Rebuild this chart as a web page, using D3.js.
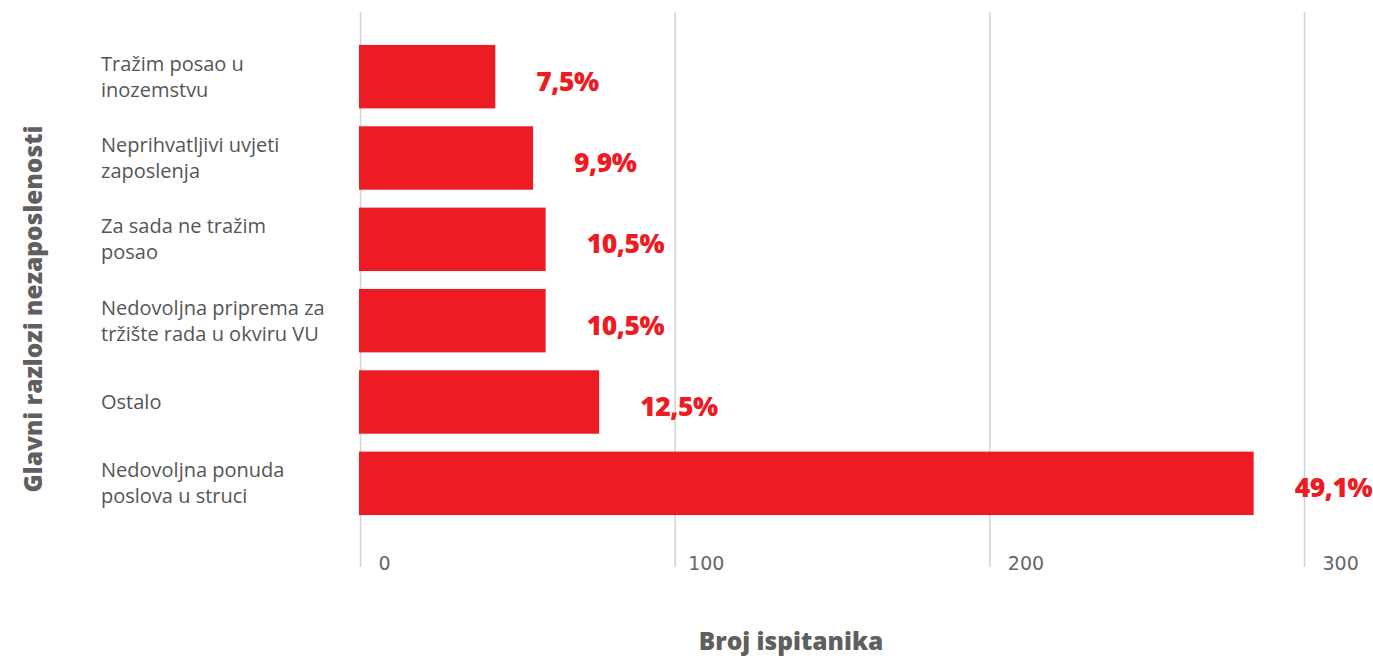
<!DOCTYPE html>
<html lang="hr">
<head>
  <meta charset="UTF-8">
  <title>Glavni razlozi nezaposlenosti</title>
  <script src="https://d3js.org/d3.v7.min.js"></script>
  <style>
    body { margin: 0; background: #fff; }
    svg { display: block; font-family: "Open Sans", sans-serif; }
  </style>
</head>
<body>
  <div id="chart"></div>

  <script>
    // Data
    const categories = [
      'Tražim posao u\ninozemstvu',
      'Neprihvatljivi uvjeti\nzaposlenja',
      'Za sada ne tražim\nposao',
      'Nedovoljna priprema za\ntržište rada u okviru VU',
      'Ostalo',
      'Nedovoljna ponuda\nposlova u struci'
    ];
    const counts = [43, 55, 59, 59, 76, 284];
    const shares = ['7,5%', '9,9%', '10,5%', '10,5%', '12,5%', '49,1%'];
    const xTicks = [0, 100, 200, 300];

    const width = 1373;
    const height = 658;
    const margin = { top: 36, right: 69, bottom: 134, left: 360 };

    const svg = d3.select('#chart')
      .append('svg')
      .attr('width', width)
      .attr('height', height);

    const x = d3.scaleLinear()
      .domain([0, 300])
      .range([margin.left, 1304]);

    const y = d3.scaleBand()
      .domain(categories)
      .range([margin.top, height - margin.bottom])
      .paddingInner(0.22)
      .paddingOuter(0.11);

    // vertical gridlines
    svg.append('g')
      .selectAll('line')
      .data(xTicks)
      .join('line')
      .attr('x1', d => x(d) + 0.5)
      .attr('x2', d => x(d) + 0.5)
      .attr('y1', 12)
      .attr('y2', 567)
      .attr('stroke', '#d2d2d2')
      .attr('stroke-width', 1.5);

    // tick labels, sitting to the right of each gridline
    const xAxis = svg.append('g')
      .attr('transform', `translate(0,563)`)
      .call(d3.axisBottom(x).tickValues(xTicks).tickSize(0).tickFormat(d3.format('d')));
    xAxis.select('.domain').remove();
    xAxis.selectAll('text')
      .attr('text-anchor', 'start')
      .attr('dx', d => d === 100 ? 13 : 18)
      .attr('y', 0)
      .attr('dy', '0.35em')
      .attr('fill', '#666')
      .style('font-size', '19px')
      .style('font-family', '"DejaVu Sans", sans-serif');

    // bars
    svg.append('g')
      .selectAll('rect')
      .data(counts)
      .join('rect')
      .attr('x', x(0) - 1)
      .attr('y', (d, i) => y(categories[i]))
      .attr('width', d => x(d) - x(0) + 1)
      .attr('height', y.bandwidth())
      .attr('fill', '#ed1c24');

    // percentage labels
    svg.append('g')
      .selectAll('text')
      .data(counts)
      .join('text')
      .attr('x', d => x(d) + 41)
      .attr('y', (d, i) => y(categories[i]) + y.bandwidth() / 2 + 14)
      .attr('fill', '#ed1c24')
      .style('font-size', '26.5px')
      .style('font-weight', '800')
      .style('letter-spacing', '-0.5px')
      .text((d, i) => shares[i]);

    // category labels (wrapped)
    const catLabels = svg.append('g')
      .selectAll('text')
      .data(categories)
      .join('text')
      .attr('x', 101)
      .attr('y', d => y(d) + y.bandwidth() / 2)
      .attr('fill', '#555')
      .style('font-size', '20px');
    catLabels.each(function (d) {
      const lines = d.split('\n');
      const lh = 26;
      const start = -((lines.length - 1) * lh) / 2;
      d3.select(this).selectAll('tspan')
        .data(lines)
        .join('tspan')
        .attr('x', 101)
        .attr('dy', (l, i) => i === 0 ? start + 7 : lh)
        .text(l => l);
    });

    // axis titles
    svg.append('text')
      .attr('x', 791)
      .attr('y', 650)
      .attr('text-anchor', 'middle')
      .attr('fill', '#5f5f5f')
      .style('font-size', '24.5px')
      .style('font-weight', '800')
      .text('Broj ispitanika');

    svg.append('text')
      .attr('transform', 'rotate(-90)')
      .attr('x', -309)
      .attr('y', 42)
      .attr('text-anchor', 'middle')
      .attr('fill', '#5f5f5f')
      .style('font-size', '24.5px')
      .style('font-weight', '800')
      .text('Glavni razlozi nezaposlenosti');
  </script>
</body>
</html>
